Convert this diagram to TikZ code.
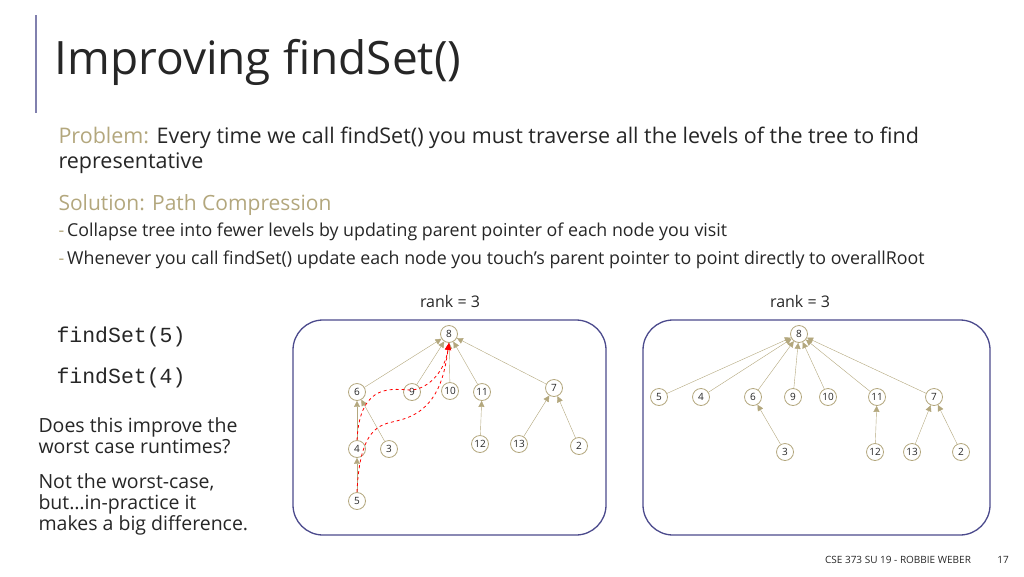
\documentclass[tikz,border=0pt]{standalone}
\usepackage{fontspec}
\setmainfont{Open Sans}
\setmonofont{Liberation Mono}
\usetikzlibrary{arrows.meta}
\definecolor{tan}{HTML}{B3A77D}
\definecolor{frame}{HTML}{4B4A8C}
\definecolor{ink}{HTML}{262626}
\tikzset{
  vert/.style={circle,draw=tan,thick,fill=white,inner sep=0,minimum size=17pt,font=\fontsize{10}{10}\selectfont,text=ink},
  tedge/.style={draw=tan,-{Triangle[length=6pt,width=6pt]}},
  pathc/.style={draw=red,dashed,thick,-{Triangle[length=7pt,width=6pt]}},
  panel/.style={draw=frame,line width=1.3pt,rounded corners=30pt}
}
\begin{document}
\begin{tikzpicture}[x=1pt,y=-1pt,text=ink]
\useasboundingbox (0,0) rectangle (1024,576);

\draw[frame!70,line width=1.5pt] (36,15) -- (36,113);
\node[anchor=west,font=\fontsize{46}{50}\selectfont] (title) at (51,62) {Improving findSet()};

\node[anchor=north west,align=left,font=\fontsize{21.5}{25}\selectfont] (prob) at (55,124)
  {\textcolor{tan}{Problem:} Every time we call findSet() you must traverse all the levels of the tree to find\\representative};
\node[anchor=west,font=\fontsize{21}{24}\selectfont,text=tan] (sol) at (55,205) {Solution: Path Compression};
\node[anchor=west,font=\fontsize{17.8}{20}\selectfont] (b1) at (55,232) {\textcolor{tan}{-}\,Collapse tree into fewer levels by updating parent pointer of each node you visit};
\node[anchor=west,font=\fontsize{17.8}{20}\selectfont] (b2) at (55,260) {\textcolor{tan}{-}\,Whenever you call findSet() update each node you touch’s parent pointer to point directly to overallRoot};

\node[font=\fontsize{16}{20}\selectfont] (rankl) at (450,301) {rank = 3};
\node[font=\fontsize{16}{20}\selectfont] (rankr) at (800,301) {rank = 3};

\node[anchor=west,font=\ttfamily\fontsize{21.5}{24}\selectfont] (f5) at (53,337) {findSet(5)};
\node[anchor=west,font=\ttfamily\fontsize{21.5}{24}\selectfont] (f4) at (53,378) {findSet(4)};
\node[anchor=north west,align=left,font=\fontsize{19.5}{21}\selectfont] (q) at (35,414) {Does this improve the\\worst case runtimes?};
\node[anchor=north west,align=left,font=\fontsize{19.5}{21}\selectfont] (a) at (35,470) {Not the worst-case,\\but\dots in-practice it\\makes a big difference.};

\node[font=\fontsize{10}{12}\selectfont] (foot) at (898,560) {CSE 373 SU 19 - ROBBIE WEBER};
\node[font=\fontsize{10}{12}\selectfont] (page) at (1003,560) {17};

% before
\draw[panel] (293,320) rectangle (606,535);
\foreach \n/\x/\y in {8/449/334,6/357/392,9/412/392,10/450/391,11/482/392,7/554/388,
  4/357/449,3/389/449,12/480/444,13/519/444,2/579/446,5/357/501}
  \node[vert] (l\n) at (\x,\y) {\n};
\foreach \c/\p in {6/8,9/8,10/8,11/8,7/8,4/6,3/6,12/11,13/7,2/7,5/4}
  \draw[tedge] (l\c) -- (l\p);
\draw[pathc] (l4.north) .. controls (360,380) and (395,390) .. (412,390)
  .. controls (430,388) and (445,370) .. (l8.south);
\draw[pathc] (l5.north) .. controls (360,420) and (385,425) .. (400,420)
  .. controls (440,410) and (445,370) .. (l8.south);

% after
\draw[panel] (643,320) rectangle (990,535);
\foreach \n/\x/\y in {8/799/334,5/659/397,4/701/397,6/753/397,9/793/397,10/828/397,
  11/877/397,7/934/397,3/785/452,12/875/452,13/912/452,2/961/452}
  \node[vert] (r\n) at (\x,\y) {\n};
\foreach \c/\p in {5/8,4/8,6/8,9/8,10/8,11/8,7/8,3/6,12/11,13/7,2/7}
  \draw[tedge] (r\c) -- (r\p);
\end{tikzpicture}
\end{document}
